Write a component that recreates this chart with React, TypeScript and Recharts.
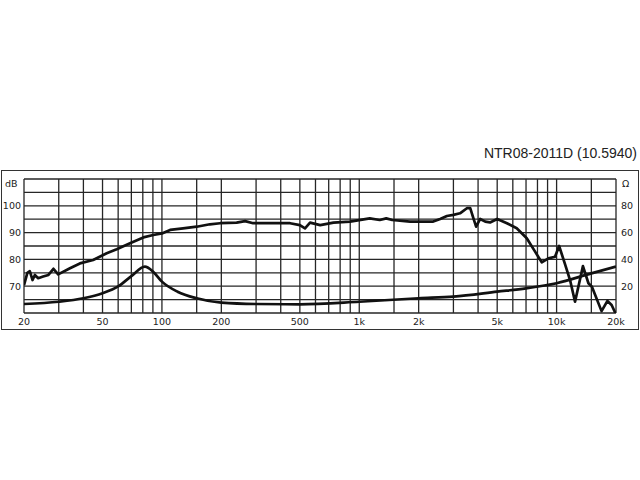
import React from "react";
import {
  LineChart, Line, XAxis, YAxis, CartesianGrid,
} from "recharts";

// frequency grid (log) and which ones carry a label
const FREQ_GRID = [
  20, 30, 40, 50, 60, 70, 80, 90,
  100, 150, 200, 300, 400, 500, 600, 700, 800, 900,
  1000, 1500, 2000, 3000, 4000, 5000, 6000, 7000, 8000, 9000,
  10000, 15000, 20000,
];
const FREQ_LABELS: Record<number, string> = {
  20: "20", 50: "50", 100: "100", 200: "200", 500: "500",
  1000: "1k", 2000: "2k", 5000: "5k", 10000: "10k", 20000: "20k",
};
const DB_GRID = [60, 65, 70, 75, 80, 85, 90, 95, 100, 105, 110];
const DB_LABELS = [70, 80, 90, 100];
const OHM_LABELS = [20, 40, 60, 80];

// SPL response, dB
const SPL = [
  { f: 20, db: 70.4 }, { f: 20.8, db: 75.0 }, { f: 21.4, db: 75.6 },
  { f: 22.1, db: 72.3 }, { f: 22.7, db: 74.2 }, { f: 23.6, db: 73.0 },
  { f: 25, db: 73.6 }, { f: 26.6, db: 74.2 }, { f: 28.2, db: 76.5 },
  { f: 29.8, db: 74.4 }, { f: 34.2, db: 76.7 }, { f: 38.4, db: 78.5 },
  { f: 44.8, db: 79.8 }, { f: 52.5, db: 82.3 }, { f: 59, db: 83.8 },
  { f: 68.9, db: 86.0 }, { f: 80.5, db: 88.2 }, { f: 90.4, db: 89.1 },
  { f: 100, db: 89.7 }, { f: 110, db: 91.0 }, { f: 128, db: 91.6 },
  { f: 150, db: 92.2 }, { f: 175, db: 93.1 }, { f: 197, db: 93.5 },
  { f: 239, db: 93.7 }, { f: 264, db: 94.3 }, { f: 290, db: 93.5 },
  { f: 353, db: 93.5 }, { f: 446, db: 93.5 }, { f: 500, db: 92.8 },
  { f: 531, db: 91.6 }, { f: 563, db: 93.7 }, { f: 634, db: 92.8 },
  { f: 740, db: 93.7 }, { f: 898, db: 94.1 }, { f: 1130, db: 95.3 },
  { f: 1270, db: 94.7 }, { f: 1370, db: 95.3 }, { f: 1470, db: 94.7 },
  { f: 1810, db: 94.1 }, { f: 2370, db: 94.1 }, { f: 2570, db: 95.1 },
  { f: 2780, db: 96.2 }, { f: 3000, db: 96.6 }, { f: 3240, db: 97.2 },
  { f: 3510, db: 99.1 }, { f: 3650, db: 99.1 }, { f: 3790, db: 95.3 },
  { f: 3910, db: 92.2 }, { f: 4100, db: 95.1 }, { f: 4350, db: 94.1 },
  { f: 4600, db: 93.8 }, { f: 5000, db: 95.1 }, { f: 5600, db: 93.5 },
  { f: 6280, db: 91.6 }, { f: 7060, db: 87.9 }, { f: 7780, db: 82.9 },
  { f: 8410, db: 78.9 }, { f: 9090, db: 80.4 }, { f: 9820, db: 81.0 },
  { f: 10300, db: 85.0 }, { f: 11000, db: 78.5 }, { f: 11700, db: 72.3 },
  { f: 12400, db: 64.2 }, { f: 13600, db: 77.5 }, { f: 14500, db: 71.1 },
  { f: 15100, db: 69.8 }, { f: 16900, db: 60.7 }, { f: 18100, db: 64.5 },
  { f: 19000, db: 63.0 }, { f: 20000, db: 59.5 },
];

// impedance, ohm
const IMPEDANCE = [
  { f: 20, ohm: 6.7 }, { f: 30, ohm: 8.4 }, { f: 40, ohm: 11.0 },
  { f: 50, ohm: 14.7 }, { f: 60, ohm: 19.8 }, { f: 70, ohm: 27.5 },
  { f: 82, ohm: 34.6 }, { f: 90, ohm: 31.0 }, { f: 100, ohm: 23.4 },
  { f: 120, ohm: 15.9 }, { f: 150, ohm: 11.0 }, { f: 200, ohm: 7.7 },
  { f: 300, ohm: 6.7 }, { f: 500, ohm: 6.5 }, { f: 1000, ohm: 8.4 },
  { f: 2000, ohm: 11.0 }, { f: 3000, ohm: 12.2 }, { f: 5000, ohm: 15.9 },
  { f: 7000, ohm: 18.4 }, { f: 10000, ohm: 22.2 }, { f: 15000, ohm: 29.6 },
  { f: 20000, ohm: 34.6 },
];

const tickStyle = { fontSize: 9.5, fill: "#222", fontFamily: "DejaVu Sans" };

export default function App() {
  return (
    <div style={{ position: "absolute", left: 0, top: 0, width: 640, height: 480, background: "#fff" }}>
      <div
        style={{
          position: "absolute", right: 3, top: 145, lineHeight: "16px",
          fontSize: 14, fontFamily: "Liberation Sans", color: "#222",
        }}
      >
        NTR08-2011D (10.5940)
      </div>
      <div
        style={{
          position: "absolute", left: 1, top: 170, width: 638, height: 160,
          border: "1.5px solid #333", boxSizing: "border-box",
        }}
      />
      <div style={{ position: "absolute", left: 5, top: 178, ...tickStyle, color: "#222", lineHeight: "12px" }}>dB</div>
      <div style={{ position: "absolute", left: 622, top: 178, ...tickStyle, color: "#222", lineHeight: "12px" }}>Ω</div>
      <div style={{ position: "absolute", left: 0, top: 0 }}>
        <LineChart width={640} height={480} margin={{ top: 179, right: 0, bottom: 147, left: 0 }}>
          <CartesianGrid yAxisId="db" stroke="#262626" strokeWidth={1.3} />
          <XAxis
            dataKey="f"
            type="number"
            scale="log"
            domain={[20, 20000]}
            allowDataOverflow
            ticks={FREQ_GRID}
            tickFormatter={(v: number) => FREQ_LABELS[v] ?? ""}
            tick={tickStyle}
            tickLine={false}
            axisLine={false}
            tickSize={5}
            tickMargin={0}
            height={20}
            interval={0}
          />
          <YAxis
            yAxisId="db"
            domain={[60, 110]}
            allowDataOverflow
            ticks={DB_GRID}
            tickFormatter={(v: number) => (DB_LABELS.includes(v) ? String(v) : "")}
            tick={tickStyle}
            tickLine={false}
            axisLine={false}
            tickSize={3}
            tickMargin={0}
            width={24}
            interval={0}
          />
          <YAxis
            yAxisId="ohm"
            orientation="right"
            domain={[0, 100]}
            allowDataOverflow
            ticks={OHM_LABELS}
            tick={{ ...tickStyle, textAnchor: "start" }}
            tickLine={false}
            axisLine={false}
            tickSize={5}
            tickMargin={0}
            width={24}
            interval={0}
          />
          <Line
            data={IMPEDANCE}
            dataKey="ohm"
            yAxisId="ohm"
            type="monotone"
            stroke="#111"
            strokeWidth={2.7}
            dot={false}
            isAnimationActive={false}
          />
          <Line
            data={SPL}
            dataKey="db"
            yAxisId="db"
            type="linear"
            stroke="#111"
            strokeWidth={2.7}
            strokeLinejoin="round"
            dot={false}
            isAnimationActive={false}
          />
        </LineChart>
      </div>
    </div>
  );
}
